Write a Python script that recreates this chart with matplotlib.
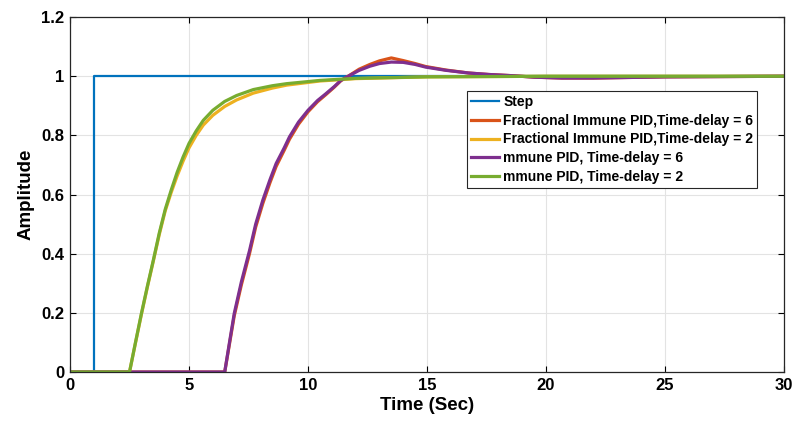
import matplotlib
matplotlib.use("Agg")
import matplotlib.pyplot as plt

# step input
t_step = [0, 1, 1, 30]
y_step = [0, 0, 1, 1]

# delay = 6 responses (start ~6.5 s)
t_d6 = [0, 6.5, 6.7, 6.9, 7.2, 7.54, 7.8, 8.1, 8.4, 8.66, 9.0, 9.22, 9.6,
        10.0, 10.4, 10.75, 11.1, 11.38, 11.8, 12.15, 12.6, 13.0, 13.5,
        14.0, 14.5, 14.94, 15.8, 16.75, 17.6, 18.57, 19.5, 20.66, 22,
        23.5, 25, 30]
y_frac_d6 = [0, 0, 0.095, 0.19, 0.295, 0.40, 0.49, 0.57, 0.64, 0.695, 0.75,
             0.787, 0.838, 0.88, 0.914, 0.938, 0.963, 0.985, 1.006, 1.024,
             1.04, 1.052, 1.062, 1.053, 1.043, 1.033, 1.021, 1.011, 1.006,
             1.002, 0.997, 0.994, 0.994, 0.996, 0.998, 1.0]
y_imm_d6 = [0, 0, 0.10, 0.198, 0.305, 0.41, 0.50, 0.581, 0.65, 0.705,
            0.758, 0.795, 0.845, 0.885, 0.918, 0.941, 0.965, 0.986, 1.005,
            1.02, 1.034, 1.043, 1.048, 1.047, 1.04, 1.031, 1.02, 1.011,
            1.006, 1.002, 0.997, 0.994, 0.994, 0.996, 0.998, 1.0]

# delay = 2 responses (start ~2.5 s)
t_d2 = [0, 2.5, 2.75, 3.0, 3.25, 3.5, 3.75, 4.0, 4.25, 4.5, 4.75, 5.0, 5.3,
        5.6, 6.0, 6.5, 7.0, 7.7, 8.5, 9.1, 10.5, 12, 15, 20, 30]
y_frac_d2 = [0, 0, 0.098, 0.195, 0.287, 0.375, 0.465, 0.545, 0.607, 0.663,
             0.713, 0.758, 0.80, 0.835, 0.868, 0.898, 0.92, 0.943, 0.96,
             0.97, 0.984, 0.992, 0.998, 1.0, 1.0]
y_imm_d2 = [0, 0, 0.10, 0.198, 0.29, 0.378, 0.47, 0.55, 0.615, 0.675,
            0.727, 0.773, 0.815, 0.851, 0.885, 0.915, 0.935, 0.955, 0.968,
            0.975, 0.986, 0.993, 0.998, 1.0, 1.0]

labels = ["Step",
          "Fractional Immune PID,Time-delay = 6",
          "Fractional Immune PID,Time-delay = 2",
          "mmune PID, Time-delay = 6",
          "mmune PID, Time-delay = 2"]

plt.rcParams["font.family"] = ["Liberation Sans", "DejaVu Sans"]
plt.rcParams["font.weight"] = "bold"

fig = plt.figure(figsize=(7.93, 4.28), dpi=100)
ax = fig.add_axes([0.0883, 0.1308, 0.9004, 0.8292])

ax.plot(t_step, y_step, color="#0072BD", lw=1.6, label=labels[0])
ax.plot(t_d6, y_frac_d6, color="#D95319", lw=2.3, label=labels[1])
ax.plot(t_d2, y_frac_d2, color="#EDB120", lw=2.3, label=labels[2])
ax.plot(t_d6, y_imm_d6, color="#7E2F8E", lw=2.3, label=labels[3])
ax.plot(t_d2, y_imm_d2, color="#77AC30", lw=2.3, label=labels[4])

ax.set_xlim(0, 30)
ax.set_ylim(0, 1.2)
ax.set_xticks([0, 5, 10, 15, 20, 25, 30])
ax.set_yticks([0, 0.2, 0.4, 0.6, 0.8, 1, 1.2])
ax.set_yticklabels(["0", "0.2", "0.4", "0.6", "0.8", "1", "1.2"])
ax.grid(True, color="#e3e3e3", lw=0.8)
ax.set_axisbelow(True)
ax.tick_params(direction="in", length=4, labelsize=12, width=0.8,
               top=True, right=True, pad=4)
for lab in ax.get_xticklabels() + ax.get_yticklabels():
    lab.set_fontweight("bold")
for sp in ax.spines.values():
    sp.set_color("#262626")
    sp.set_linewidth(0.9)

ax.set_xlabel("Time (Sec)", fontsize=13.5, fontweight="bold", labelpad=3)
ax.set_ylabel("Amplitude", fontsize=13.5, fontweight="bold", labelpad=5)

leg = ax.legend(loc="upper left", bbox_to_anchor=(0.556, 0.7915),
                borderaxespad=0, fancybox=False, framealpha=1,
                edgecolor="#262626", handlelength=2.0,
                handletextpad=0.3, labelspacing=0.33, borderpad=0.3,
                prop={"weight": "bold", "size": 10})
leg.get_frame().set_linewidth(0.8)

fig.savefig("out.png", dpi=100, facecolor="white")
